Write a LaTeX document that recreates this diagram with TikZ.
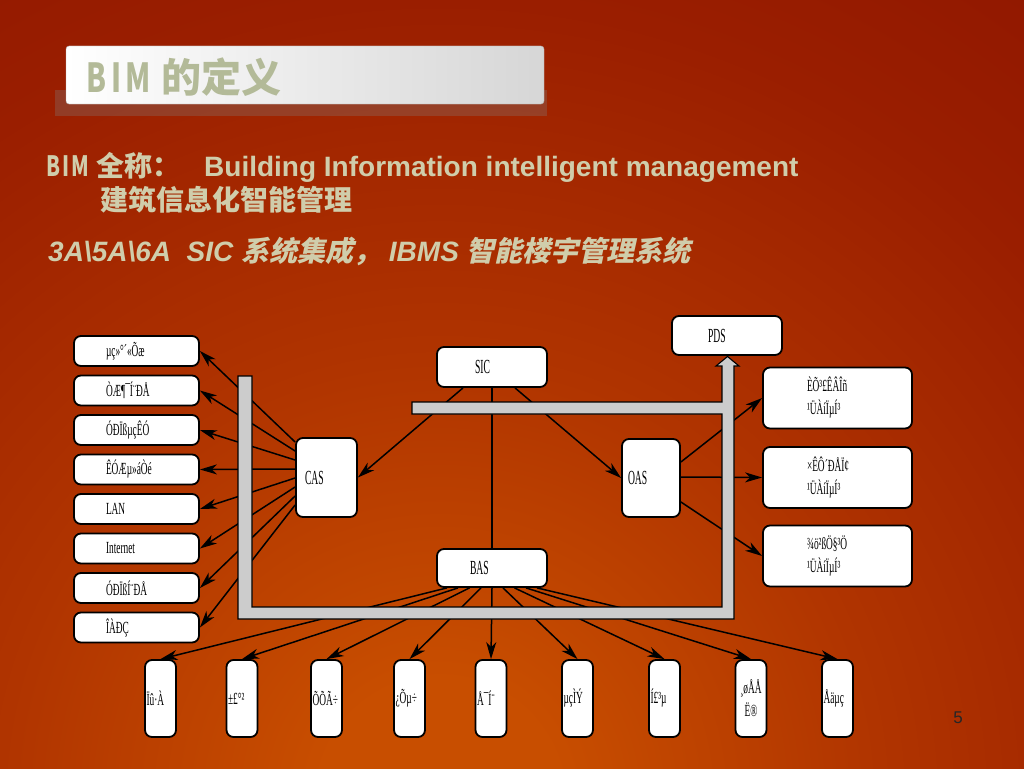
\documentclass[tikz,border=0pt]{standalone}
\usepackage{fontspec}
\setmainfont{Liberation Sans}
\newfontfamily\cjk{Noto Sans CJK SC}
\newfontfamily\cjknarrow[FakeStretch=0.72]{Noto Sans CJK SC}
\newfontfamily\cjkslant[FakeSlant=0.22]{Noto Sans CJK SC}
\newfontfamily\boxfont[FakeStretch=0.55]{Liberation Serif}
\newfontfamily\hubfont[FakeStretch=0.48]{Liberation Serif}
\usetikzlibrary{arrows.meta, positioning}

\definecolor{bgA}{HTML}{C84E00}
\definecolor{bgB}{HTML}{B03400}
\definecolor{bgC}{HTML}{9A1E00}
\definecolor{bgD}{HTML}{861000}
\definecolor{bgE}{HTML}{6A0800}
\definecolor{titleink}{HTML}{B3BA98}
\definecolor{slideink}{HTML}{D0CDAB}
\definecolor{bargray}{HTML}{CCCCCC}
\pgfdeclareradialshading{slidebg}{\pgfpoint{0bp}{0bp}}{color(0bp)=(bgA); color(3bp)=(bgA); color(11bp)=(bgB); color(20bp)=(bgC); color(32bp)=(bgD); color(48bp)=(bgE); color(50bp)=(bgE)}

\begin{document}
\begin{tikzpicture}[x=1pt, y=-1pt,
    box/.style={draw=black, fill=white, line width=1.8pt, rounded corners=7pt, inner ysep=0pt, font=\boxfont\fontsize{17}{23}\selectfont},
    leftbox/.style={box, minimum width=125pt, minimum height=30pt, inner xsep=32pt, text width=61pt, align=left},
    rightbox/.style={box, minimum width=149pt, minimum height=61pt, inner xsep=44pt, text width=61pt, align=left},
    downbox/.style={box, minimum width=31pt, minimum height=77pt, inner xsep=1.5pt, text width=28pt, align=left},
    hub/.style={box, font=\hubfont\fontsize{20}{20}\selectfont, align=left},
    link/.style={line width=1.5pt, -{Stealth[length=17pt, width=10pt, inset=5pt]}},
    wire/.style={line width=1.5pt},
    bar/.style={fill=bargray, draw=black, line width=1.1pt},
    slidetext/.style={anchor=base west, inner sep=0pt, text=slideink}]
    \useasboundingbox (0,0) rectangle (1024,768);
    \begin{scope}
        \clip (0,0) rectangle (1024,768);
        \shade[shading=slidebg] (440,800) circle (1000pt);
    \end{scope}

    % title bar
    \fill[gray, opacity=0.3] (55,90) rectangle (547,116);
    \shadedraw[left color=white, right color=black!16, draw=black!30, rounded corners=3pt] (66,46) rectangle (544,104);
    \node[anchor=base west, inner sep=0pt, text=titleink, font=\fontsize{40}{40}\selectfont\bfseries] (title) at (86,92)
        {{\cjknarrow B\hspace{5pt}I\hspace{4pt}M} {\cjk 的定义}};

    % text lines
    \node[slidetext, font=\fontsize{28}{28}\selectfont\bfseries] (fullname) at (46,176)
        {{\cjknarrow B\hspace{2pt}I\hspace{2pt}M} \cjk 全称：};
    \node[slidetext, font=\fontsize{28}{28}\selectfont\bfseries] (english) at (204,176)
        {Building Information intelligent management};
    \node[slidetext, font=\fontsize{28}{28}\selectfont\bfseries\cjk] (chinese) at (100,210)
        {建筑信息化智能管理};
    \node[slidetext, font=\fontsize{28}{28}\selectfont\bfseries\itshape] (levels) at (48,261)
        {3A\textbackslash 5A\textbackslash 6A\ \ SIC {\cjkslant 系统集成，} IBMS {\cjkslant 智能楼宇管理系统}};

    % centre boxes
    \node[hub, minimum width=110pt, minimum height=40pt, inner xsep=38pt, text width=34pt] (SIC) at (492,367) {SIC};
    \node[hub, minimum width=110pt, minimum height=38pt, inner xsep=33pt, text width=44pt] (BAS) at (492,568) {BAS};
    \node[hub, minimum width=110pt, minimum height=39pt, inner xsep=36pt, text width=38pt] (PDS) at (727,335.5) {PDS};
    \node[hub, minimum width=61pt, minimum height=79pt, inner xsep=9pt, text width=43pt] (CAS) at (326.5,477.5) {CAS};
    \node[hub, minimum width=58pt, minimum height=78pt, inner xsep=6pt, text width=46pt] (OAS) at (651,478) {OAS};

    % left column
    \node[leftbox] (L1) at (136.5,351) {µç»°´«Õæ};
    \node[leftbox] (L2) at (136.5,390.5) {ÒÆ¶¯Í¨ÐÅ};
    \node[leftbox] (L3) at (136.5,430) {ÓÐÏßµçÊÓ};
    \node[leftbox] (L4) at (136.5,469.5) {ÊÓÆµ»áÒé};
    \node[leftbox] (L5) at (136.5,509) {LAN};
    \node[leftbox] (L6) at (136.5,548.5) {Internet};
    \node[leftbox] (L7) at (136.5,588) {ÓÐÏßÍ¨ÐÅ};
    \node[leftbox] (L8) at (136.5,627.5) {ÎÀÐÇ};

    % right column
    \node[rightbox] (R1) at (837.5,398) {ÈÕ³£ÊÂÎñ\\¹ÜÀíÏµÍ³};
    \node[rightbox] (R2) at (837.5,477.5) {×ÊÔ´ÐÅÏ¢\\¹ÜÀíÏµÍ³};
    \node[rightbox] (R3) at (837.5,556) {¾ö²ßÖ§³Ö\\¹ÜÀíÏµÍ³};

    % bottom row
    \node[downbox] (B1) at (160.5,698.5) {Ïû·À};
    \node[downbox] (B2) at (242,698.5) {±£°²};
    \node[downbox] (B3) at (326.5,698.5) {ÕÕÃ÷};
    \node[downbox] (B4) at (409.5,698.5) {¿Õµ÷};
    \node[downbox] (B5) at (491,698.5) {Å¯Í¨};
    \node[downbox] (B6) at (577.5,698.5) {µçÌÝ};
    \node[downbox] (B7) at (664.5,698.5) {Í£³µ};
    \node[downbox, align=center] (B8) at (751,698.5) {¸øÅÅ\\Ë®};
    \node[downbox] (B9) at (837.5,698.5) {Åäµç};

    % connectors
    \draw[link] ([xshift=-29pt]SIC.south) -- (CAS.east);
    \draw[link] ([xshift=23pt]SIC.south) -- (OAS.west);
    \draw[wire] (SIC.south) -- (BAS.north);

    \draw[link] ([yshift=35.5pt]CAS.west) -- (L1.east);
    \draw[link] ([yshift=26.5pt]CAS.west) -- (L2.east);
    \draw[link] ([yshift=17.5pt]CAS.west) -- (L3.east);
    \draw[link] ([yshift=8.5pt]CAS.west) -- (L4.east);
    \draw[link] ([yshift=-0.5pt]CAS.west) -- (L5.east);
    \draw[link] ([yshift=-9.5pt]CAS.west) -- (L6.east);
    \draw[link] ([yshift=-18.5pt]CAS.west) -- (L7.east);
    \draw[link] ([yshift=-27.5pt]CAS.west) -- (L8.east);

    \draw[link] ([yshift=16pt]OAS.east) -- (R1.west);
    \draw[link] ([yshift=1pt]OAS.east) -- (R2.west);
    \draw[link] ([yshift=-24pt]OAS.east) -- (R3.west);

    \draw[link] ([xshift=-45pt]BAS.south) -- (B1.north);
    \draw[link] ([xshift=-34pt]BAS.south) -- (B2.north);
    \draw[link] ([xshift=-22.5pt]BAS.south) -- (B3.north);
    \draw[link] ([xshift=-11pt]BAS.south) -- (B4.north);
    \draw[link] (BAS.south) -- (B5.north);
    \draw[link] ([xshift=11pt]BAS.south) -- (B6.north);
    \draw[link] ([xshift=22.5pt]BAS.south) -- (B7.north);
    \draw[link] ([xshift=34pt]BAS.south) -- (B8.north);
    \draw[link] ([xshift=45pt]BAS.south) -- (B9.north);

    % gray bus frame with the arrow up to PDS
    \draw[bar] (238,376) -- (238,619) -- (734,619) -- (734,366) -- (739,366) -- (727.5,356.5)
        -- (716,366) -- (722,366) -- (722,402) -- (412,402) -- (412,414) -- (722,414)
        -- (722,607) -- (252,607) -- (252,376) -- cycle;

    \node[font=\fontsize{17}{17}\selectfont, text=black!85] (pagenum) at (958,718) {5};
\end{tikzpicture}
\end{document}
